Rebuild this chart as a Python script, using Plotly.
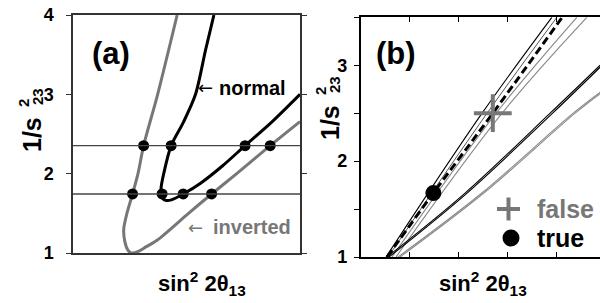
import plotly.graph_objects as go
from plotly.subplots import make_subplots

W, H = 600, 303

# ---------------- panel (a) data ----------------
a_inv_x = [0.04588, 0.0373, 0.03111, 0.02863, 0.02624, 0.02376, 0.02235, 0.02279,
           0.02412, 0.02566, 0.02876, 0.0323, 0.03717, 0.05088, 0.06106, 0.07212,
           0.08686, 0.1]
a_inv_y = [4.0, 3.0, 2.353, 2.0, 1.744, 1.5, 1.3, 1.15,
           1.04, 1.0, 1.02, 1.08, 1.164, 1.5, 1.744, 2.0,
           2.353, 2.656]
a_norm_x = [0.06208, 0.05841, 0.05398, 0.04867, 0.04323, 0.03996, 0.0388, 0.03889,
            0.0396, 0.04115, 0.04336, 0.04854, 0.0562, 0.06593, 0.0758, 0.08717, 0.1]
a_norm_y = [4.0, 3.56, 3.0, 2.65, 2.353, 2.0, 1.82, 1.744,
            1.685, 1.662, 1.67, 1.744, 1.88, 2.1, 2.353, 2.64, 3.0]
a_levels = [1.744, 2.353]
a_dots_x = [0.03111, 0.04323, 0.0758, 0.08686, 0.02624, 0.03925, 0.04854, 0.06106]
a_dots_y = [2.353, 2.353, 2.353, 2.353, 1.744, 1.744, 1.744, 1.744]
a_yticks = [1, 2, 3, 4]

# ---------------- panel (b) data ----------------
b_levels = [1.667, 2.5]
b_y3 = [1.0, 2.5, 3.5]
b_black1_x = [0.01033, 0.04951, 0.07796]
b_dark2_x = [0.01114, 0.05155, 0.08]
b_gray1_x = [0.01278, 0.05522, 0.08816]
b_gray2_x = [0.01441, 0.05767, 0.09224]
b_dash_x = [0.01073, 0.02963, 0.05388, 0.08216]
b_dash_y = [1.0, 1.667, 2.5, 3.5]
b_shallow_y = [1.0, 1.667, 2.5, 3.0]
b_shallowK_x = [0.01073, 0.04257, 0.07727, 0.09767]
b_shallowK2_x = [0.01155, 0.04339, 0.07829, 0.09849]
b_shallowG_y = [1.0, 1.667, 2.5, 2.72]
b_shallowG_x = [0.01522, 0.04939, 0.08665, 0.09767]
b_shallowG2_x = [0.01604, 0.05021, 0.08747, 0.09849]
b_true = (0.02963, 1.667)
b_false = (0.05388, 2.5)
b_xticks = [0.02, 0.04, 0.06, 0.08]
b_yticks = [1, 2, 3]
b_yminor = [1.5, 2.5, 3.5]

GRAY = '#777777'
LGRAY = '#8a8a8a'
FONT = 'Liberation Sans'

fig = make_subplots(rows=1, cols=2)

# panel (a)
fig.add_trace(go.Scatter(x=a_inv_x, y=a_inv_y, mode='lines',
                         line=dict(color=GRAY, width=3, shape='spline', smoothing=0.8)), 1, 1)
fig.add_trace(go.Scatter(x=a_norm_x, y=a_norm_y, mode='lines',
                         line=dict(color='black', width=3, shape='spline', smoothing=0.8)), 1, 1)
for lv in a_levels:
    fig.add_hline(y=lv, line=dict(color='#444444', width=1.3), row=1, col=1)
fig.add_trace(go.Scatter(x=a_dots_x, y=a_dots_y, mode='markers',
                         marker=dict(color='black', size=11)), 1, 1)

# panel (b)
for lv in b_levels:
    fig.add_hline(y=lv, line=dict(color='black', width=1.3), row=1, col=2)
for xs, col, wd in [(b_gray2_x, LGRAY, 1.1), (b_gray1_x, LGRAY, 1.1),
                    (b_dark2_x, '#555555', 1.0), (b_black1_x, 'black', 1.1)]:
    fig.add_trace(go.Scatter(x=xs, y=b_y3, mode='lines',
                             line=dict(color=col, width=wd, shape='spline')), 1, 2)
for xs in [b_shallowG_x, b_shallowG2_x]:
    fig.add_trace(go.Scatter(x=xs, y=b_shallowG_y, mode='lines',
                             line=dict(color=LGRAY, width=1.1, shape='spline')), 1, 2)
for xs in [b_shallowK_x, b_shallowK2_x]:
    fig.add_trace(go.Scatter(x=xs, y=b_shallow_y, mode='lines',
                             line=dict(color='black', width=1.1, shape='spline')), 1, 2)
fig.add_trace(go.Scatter(x=b_dash_x, y=b_dash_y, mode='lines',
                         line=dict(color='black', width=3, dash='8px,4px', shape='spline')), 1, 2)
fig.add_trace(go.Scatter(x=[b_true[0]], y=[b_true[1]], mode='markers',
                         marker=dict(color='black', size=16)), 1, 2)
fig.add_trace(go.Scatter(x=[b_false[0]], y=[b_false[1]], mode='markers',
                         marker=dict(symbol='cross-thin', size=27,
                                     line=dict(color=GRAY, width=4))), 1, 2)


def px(x):
    return x / W


def py(y):
    return 1 - y / H


fig.update_layout(
    width=W, height=H, margin=dict(l=0, r=0, t=0, b=0, autoexpand=False),
    paper_bgcolor='white', plot_bgcolor='white', showlegend=False,
    font=dict(family=FONT, size=16, color='black'),
)

fig.update_xaxes(row=1, col=1, domain=[px(73), px(300)], range=[0, 0.1],
                 automargin=False,
                 showline=True, linecolor='#333333', linewidth=1.5, mirror=True,
                 showgrid=False, zeroline=False, ticks='', showticklabels=False)
fig.update_yaxes(row=1, col=1, domain=[py(253), py(15)], range=[1, 4],
                 automargin=False,
                 tickvals=a_yticks, ticks='outside', ticklen=5, tickwidth=1.3,
                 tickcolor='#333333', ticklabelstandoff=9,
                 showline=True, linecolor='#333333', linewidth=1.5, mirror='ticks',
                 showgrid=False, zeroline=False,
                 tickfont=dict(family=FONT, size=18, weight='bold'))
fig.update_xaxes(row=1, col=2, domain=[px(360.7), 1.0], range=[0, 0.0976],
                 automargin=False,
                 tickvals=b_xticks, ticks='inside', ticklen=5, tickwidth=1.2,
                 tickcolor='black',
                 showline=True, linecolor='black', linewidth=1.5, mirror='ticks',
                 showgrid=False, zeroline=False, showticklabels=False)
fig.update_yaxes(row=1, col=2, domain=[py(257), py(17.3)], range=[1, 3.5],
                 automargin=False,
                 tickvals=b_yticks,
                 ticks='outside', ticklen=5, tickwidth=1.2, tickcolor='black',
                 minor=dict(tickvals=b_yminor, ticks='outside', ticklen=5,
                            tickwidth=1.2, tickcolor='black', showgrid=False),
                 ticklabelstandoff=3,
                 showline=True, linecolor='black', linewidth=1.5, mirror=True,
                 showgrid=False, zeroline=False,
                 tickfont=dict(family=FONT, size=18, weight='bold'))

ann = []


def text(x, y, t, size, color='black', xa='center', ya='middle', angle=0,
         weight='bold', family=FONT):
    ann.append(dict(x=px(x), y=py(y), xref='paper', yref='paper', text=t,
                    showarrow=False, xanchor=xa, yanchor=ya, textangle=angle,
                    font=dict(family=family, size=size, color=color, weight=weight)))


# panel labels
text(110.5, 53, '(a)', 31)
text(396, 53, '(b)', 31)
# curve labels
text(196, 88, '←', 18, weight='normal', family='DejaVu Sans', xa='left')
text(217, 88, 'normal', 20, xa='left')
text(186, 227, '←', 18, color=GRAY, weight='normal', family='DejaVu Sans', xa='left')
text(211, 227, 'inverted', 20, color=GRAY, xa='left')
# x titles
for cx in (202, 483):
    text(cx, 283, 'sin<sup>2</sup> 2θ<sub>13</sub>', 22)
# y titles (stacked super/subscript)
for dx, dy in ((0, 0), (298, -12)):
    text(32 + dx, 135 + dy, '1/s', 25, angle=-90)
    text(23 + dx, 103 + dy, '2', 15, angle=-90)
    text(37 + dx, 97 + dy, '23', 15, angle=-90)
# legend
text(535, 209, 'false', 25, color=GRAY, xa='left')
text(535, 238, 'true', 25, xa='left')
fig.update_layout(annotations=ann)

# legend symbols
fig.add_shape(type='line', xref='paper', yref='paper', x0=px(497), x1=px(520),
              y0=py(209), y1=py(209), line=dict(color=GRAY, width=4))
fig.add_shape(type='line', xref='paper', yref='paper', x0=px(508.5), x1=px(508.5),
              y0=py(197.5), y1=py(220.5), line=dict(color=GRAY, width=4))
fig.add_shape(type='circle', xref='paper', yref='paper', x0=px(502.5), x1=px(519.5),
              y0=py(229.5), y1=py(246.5), fillcolor='black', line=dict(width=0))

fig.write_html('out.html', config={'displayModeBar': False},
               post_script="document.body.style.margin='0px';"
                           "document.body.style.overflow='hidden';")
